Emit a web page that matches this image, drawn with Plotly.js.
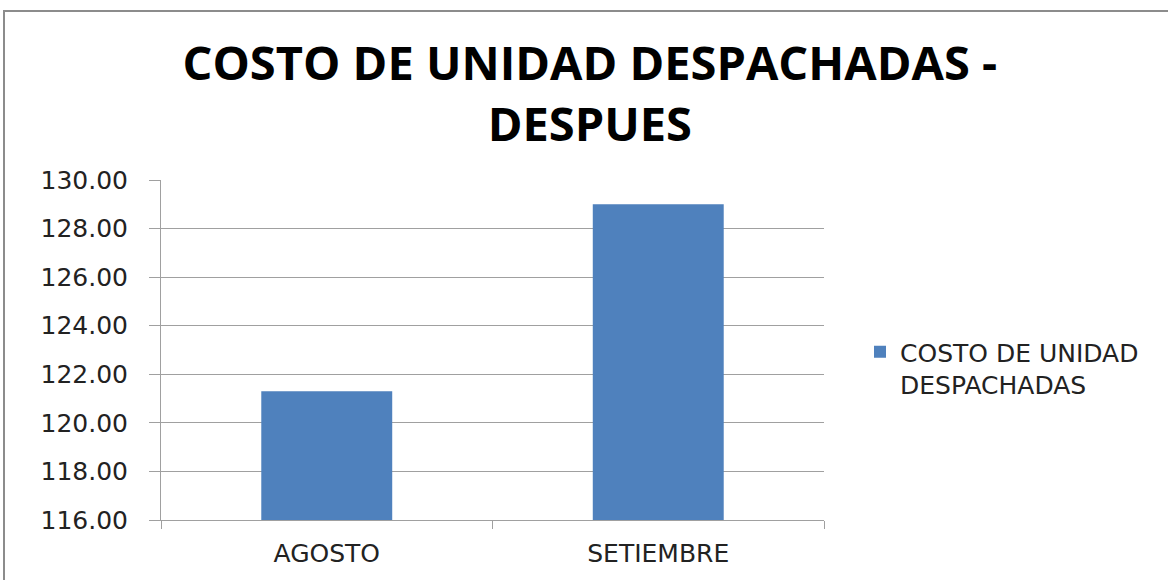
<!DOCTYPE html>
<html>
<head>
<meta charset="utf-8">
<script src="https://cdn.plot.ly/plotly-3.0.1.min.js"></script>
<style>
html,body{margin:0;padding:0;background:#fff;}
#chart{width:1168px;height:580px;}
</style>
</head>
<body>
<div id="chart"></div>
<script>
var categories = ["AGOSTO", "SETIEMBRE"];
var costoUnidad = [121.30, 129.00];
var seriesName = "COSTO DE UNIDAD<br>DESPACHADAS";
var chartTitle = "COSTO DE UNIDAD DESPACHADAS -<br>DESPUES";

var W = 1168, H = 580;
var L = 161, R = 824, T = 180, B = 520;
var pw = R - L, ph = B - T;
function px(x){ return (x - L) / pw; }
function py(y){ return (B - y) / ph; }

var trace = {
  type: "bar",
  x: categories,
  y: costoUnidad,
  name: seriesName,
  marker: {color: "#4f81bd"},
  showlegend: true
};

var layout = {
  width: W, height: H,
  margin: {l: L, r: W - R, t: T, b: H - B, pad: 0},
  paper_bgcolor: "#ffffff",
  plot_bgcolor: "#ffffff",
  bargap: 0.605,
  showlegend: true,
  title: {
    text: chartTitle,
    font: {family: "Open Sans", size: 47, color: "#000000", weight: "bold"},
    x: 0.505, xanchor: "center",
    y: 1 - 80 / H, yanchor: "top"
  },
  xaxis: {
    type: "category",
    showline: true, linecolor: "#a0a0a0", linewidth: 1,
    ticks: "outside", tickson: "boundaries", ticklen: 8, tickcolor: "#a0a0a0",
    showgrid: false,
    tickfont: {family: "DejaVu Sans", size: 25, color: "#222222"},
    ticklabelstandoff: 11
  },
  yaxis: {
    range: [116, 130], dtick: 2, tick0: 116, tickformat: ".2f",
    showline: true, linecolor: "#a0a0a0", linewidth: 1,
    ticks: "outside", ticklen: 11, tickcolor: "#a0a0a0",
    showgrid: true, gridcolor: "#a0a0a0", gridwidth: 1,
    zeroline: false,
    tickfont: {family: "DejaVu Sans", size: 25, color: "#222222"},
    ticklabelstandoff: 16
  },
  legend: {
    x: px(860), xanchor: "left",
    y: py(329), yanchor: "top",
    valign: "top",
    font: {family: "DejaVu Sans", size: 25, color: "#222222"},
    bgcolor: "rgba(0,0,0,0)"
  },
  shapes: [
    {type: "line", xref: "paper", yref: "paper",
     x0: px(4), x1: px(4), y0: py(600), y1: py(11),
     line: {color: "#8c8c8c", width: 2}},
    {type: "line", xref: "paper", yref: "paper",
     x0: px(3), x1: px(1200), y0: py(11), y1: py(11),
     line: {color: "#8c8c8c", width: 2}}
  ]
};

Plotly.newPlot("chart", [trace], layout, {displayModeBar: false, staticPlot: true});
</script>
</body>
</html>
